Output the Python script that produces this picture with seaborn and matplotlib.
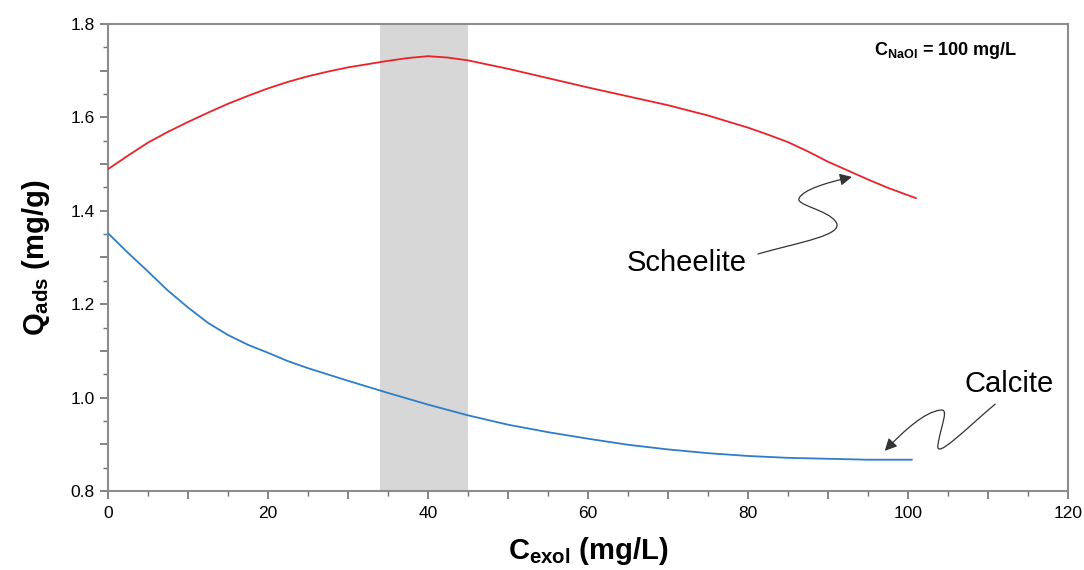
import matplotlib
matplotlib.use('Agg')
import matplotlib.pyplot as plt
from matplotlib.path import Path
from matplotlib.patches import FancyArrowPatch
from matplotlib.ticker import MultipleLocator, FuncFormatter
import seaborn as sns
import pandas as pd

# values
scheelite_x = [0, 2.5, 5, 7.5, 10, 12.5, 15, 17.5, 20, 22.5, 25, 27.5, 30, 32.5, 35, 37.5, 40,
               42.5, 45, 50, 55, 60, 65, 70, 75, 80, 82.5, 85, 87.5, 90, 92.5, 95, 97.5, 101]
scheelite_q = [1.489, 1.518, 1.546, 1.569, 1.590, 1.610, 1.629, 1.646, 1.662, 1.676, 1.688, 1.698,
               1.707, 1.714, 1.721, 1.727, 1.731, 1.728, 1.722, 1.704, 1.684, 1.664, 1.645, 1.626,
               1.604, 1.578, 1.563, 1.547, 1.527, 1.505, 1.486, 1.467, 1.449, 1.427]
calcite_x = [0, 2.5, 5, 7.5, 10, 12.5, 15, 17.5, 20, 22.5, 25, 30, 35, 40, 45, 50, 55, 60, 65,
             70, 75, 80, 85, 90, 95, 100.5]
calcite_q = [1.352, 1.310, 1.270, 1.229, 1.193, 1.160, 1.134, 1.113, 1.096, 1.078, 1.063, 1.036,
             1.010, 0.985, 0.962, 0.942, 0.926, 0.912, 0.899, 0.889, 0.881, 0.875, 0.871, 0.869,
             0.867, 0.867]
band_lo, band_hi = 34, 45

df = pd.concat([
    pd.DataFrame({'c': scheelite_x, 'q': scheelite_q, 'mineral': 'Scheelite'}),
    pd.DataFrame({'c': calcite_x, 'q': calcite_q, 'mineral': 'Calcite'}),
])

sns.set_theme(style='ticks')
plt.rcParams['font.family'] = ['Liberation Sans', 'DejaVu Sans']
plt.rcParams['mathtext.fontset'] = 'custom'
plt.rcParams['mathtext.rm'] = 'Liberation Sans'
plt.rcParams['mathtext.it'] = 'Liberation Sans'
plt.rcParams['mathtext.bf'] = 'Liberation Sans:bold'
plt.rcParams['text.color'] = 'black'
plt.rcParams['axes.labelcolor'] = 'black'

fig, ax = plt.subplots(figsize=(10.84, 5.70), dpi=100)
fig.subplots_adjust(left=0.0996, right=0.9852, top=0.958, bottom=0.1386)

ax.axvspan(band_lo, band_hi, color='#d7d7d7', lw=0, zorder=0)
sns.lineplot(data=df, x='c', y='q', hue='mineral',
             palette={'Scheelite': '#e8232a', 'Calcite': '#2f7dc9'},
             linewidth=1.3, legend=False, ax=ax, zorder=3)

ax.set_xlim(0, 120)
ax.set_ylim(0.8, 1.8)
ax.xaxis.set_major_locator(MultipleLocator(10))
ax.xaxis.set_minor_locator(MultipleLocator(5))
ax.xaxis.set_major_formatter(FuncFormatter(lambda v, p: f'{v:.0f}' if round(v) % 20 == 0 else ''))
ax.yaxis.set_major_locator(MultipleLocator(0.1))
ax.yaxis.set_minor_locator(MultipleLocator(0.05))
ax.yaxis.set_major_formatter(FuncFormatter(lambda v, p: f'{v:.1f}' if round(v * 10) % 2 == 0 else ''))

for s in ax.spines.values():
    s.set_color('#8c8c8c')
    s.set_linewidth(1.5)
ax.tick_params(which='both', direction='out', color='#707070', labelsize=12.5, labelcolor='black')
ax.tick_params(which='major', length=6, width=1.2)
ax.tick_params(which='minor', length=3.5, width=1.0)
ax.tick_params(axis='x', pad=5)

ax.set_xlabel(r'$\mathbf{C_{exol}\ (mg/L)}$', fontsize=21, labelpad=10)
ax.set_ylabel(r'$\mathbf{Q_{ads}\ (mg/g)}$', fontsize=21, labelpad=13)

ax.text(0.798, 0.944, r'$\mathbf{C_{NaOl}}$ = 100 mg/L', transform=ax.transAxes,
        fontsize=13, fontweight='bold', ha='left', va='center')
ax.text(64.9, 1.288, 'Scheelite', fontsize=21, ha='left', va='center')
ax.text(107.1, 1.029, 'Calcite', fontsize=21, ha='left', va='center')

# wavy annotation arrows
C4 = Path.CURVE4
sch_verts = [(81.25, 1.3075), (86.5, 1.333), (92.1, 1.348), (91.0, 1.376),
             (90.0, 1.402), (85.9, 1.412), (86.4, 1.427),
             (86.9, 1.4445), (89.6, 1.4595), (93.0, 1.4724)]
cal_verts = [(110.9, 0.986), (107.1, 0.931), (103.4, 0.866), (103.75, 0.8985),
             (104.1, 0.941), (105.25, 0.978), (104.0, 0.973),
             (102.1, 0.969), (99.6, 0.931), (97.1, 0.886)]
codes = [Path.MOVETO] + [C4] * 9
for verts in (sch_verts, cal_verts):
    arr = FancyArrowPatch(path=Path(verts, codes), arrowstyle='-|>', mutation_scale=18,
                          color='#333333', lw=0.9, zorder=4)
    ax.add_patch(arr)

fig.savefig('out.png', dpi=100)
